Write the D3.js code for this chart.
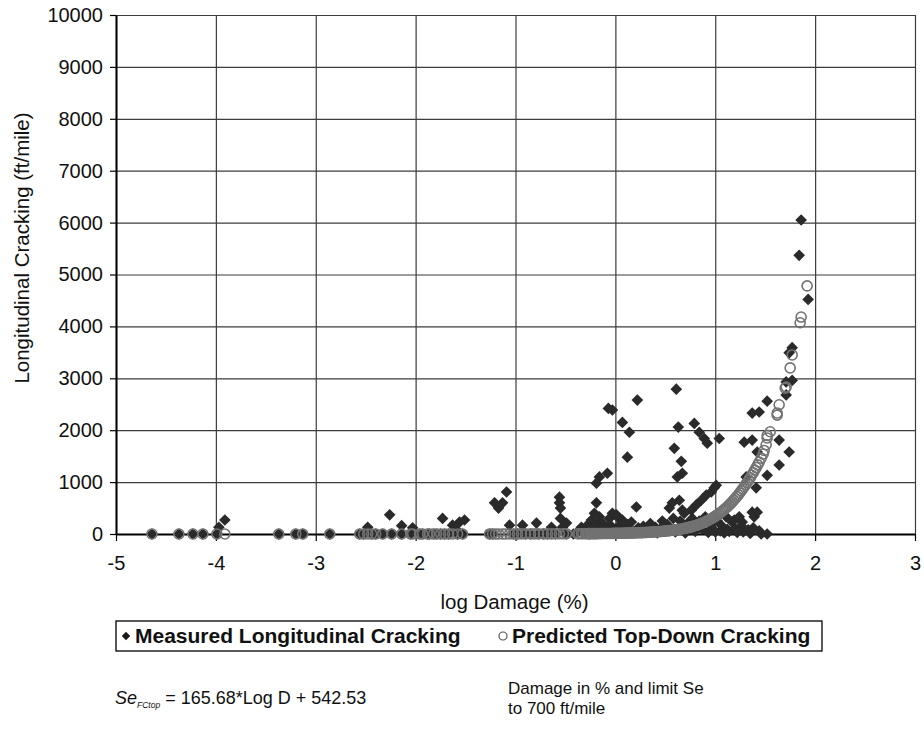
<!DOCTYPE html>
<html><head><meta charset="utf-8">
<script src="https://cdn.jsdelivr.net/npm/d3@7"></script>
<style>
body{margin:0;background:#fff}
svg{display:block}
text{font-family:"Liberation Sans",Arial,Helvetica,sans-serif;fill:#111}
</style>
</head><body>
<svg id="chart" width="924" height="740"></svg>
<script>
// ---------------- data ----------------
const xTicks = [-5, -4, -3, -2, -1, 0, 1, 2, 3];
const yTicks = [0, 1000, 2000, 3000, 4000, 5000, 6000, 7000, 8000, 9000, 10000];
const xTitle = "log Damage (%)";
const yTitle = "Longitudinal Cracking (ft/mile)";
const legendLabels = ["Measured Longitudinal Cracking", "Predicted Top-Down Cracking"];
const noteLines = ["Damage in % and limit Se", "to 700 ft/mile"];

// [log Damage (%), measured longitudinal cracking ft/mile]
const measured = [
  [-4.64,0],[-4.37,0],[-4.23,0],[-4.13,0],[-3.99,0],[-3.97,130],[-3.91,270],[-3.37,0],[-3.20,0],[-3.13,0],[-2.86,0],
  [-2.56,0],[-2.52,0],[-2.48,130],[-2.44,0],[-2.40,0],[-2.33,0],[-2.26,370],[-2.24,0],[-2.14,160],[-2.14,0],[-2.05,0],
  [-2.03,120],[-1.96,0],[-1.93,0],[-1.88,0],[-1.86,0],[-1.82,0],[-1.79,0],[-1.73,300],[-1.75,0],[-1.71,0],[-1.67,0],
  [-1.63,170],[-1.60,100],[-1.58,0],[-1.56,230],[-1.53,0],[-1.51,270],
  [-1.26,0],[-1.23,0],[-1.21,600],[-1.17,500],[-1.13,600],[-1.09,810],[-1.06,170],[-1.02,0],[-0.98,0],[-0.93,170],
  [-0.90,0],[-0.85,0],[-0.79,210],[-0.77,0],[-0.72,0],[-0.68,0],[-0.64,130],[-0.60,0],[-0.56,710],[-0.56,600],
  [-0.55,500],[-0.55,300],[-0.53,130],[-0.49,210],[-0.49,0],
  [-0.42,0],[-0.38,40],[-0.34,130],[-0.30,60],[-0.28,170],[-0.26,0],[-0.24,270],[-0.22,90],[-0.21,400],[-0.19,600],
  [-0.19,980],[-0.17,200],[-0.16,330],[-0.16,1100],[-0.14,60],[-0.13,210],[-0.11,120],[-0.08,1170],[-0.07,2420],
  [-0.06,300],[-0.05,170],[-0.03,2390],[-0.03,400],[-0.01,80],[0.01,370],[0.02,330],[0.03,150],[0.05,60],[0.07,2150],
  [0.07,270],[0.09,110],[0.12,1480],[0.12,180],[0.14,1960],[0.16,230],[0.18,40],[0.21,520],[0.22,2580],[0.23,120],
  [0.25,60],[0.28,150],[0.30,30],[0.33,90],[0.35,200],[0.38,60],[0.40,130],[0.42,20],[0.45,100],[0.47,250],[0.50,60],
  [0.52,180],[0.54,500],[0.55,80],[0.57,600],[0.58,300],[0.59,1650],[0.60,40],[0.61,2790],[0.62,1100],[0.63,2060],
  [0.64,650],[0.65,250],[0.66,1400],[0.67,1170],[0.67,460],[0.68,120],[0.69,400],[0.70,20],[0.72,200],[0.74,80],
  [0.76,460],[0.77,300],[0.79,2130],[0.80,50],[0.81,560],[0.82,150],[0.84,1960],[0.84,250],[0.86,650],[0.87,90],
  [0.89,1840],[0.90,330],[0.91,750],[0.92,1750],[0.93,30],[0.95,180],[0.96,810],[0.97,100],[0.99,890],[1.00,40],
  [1.01,940],[1.02,250],[1.04,1840],[1.05,60],[1.07,150],[1.09,20],[1.11,330],[1.12,90],[1.14,50],[1.17,230],
  [1.19,270],[1.20,100],[1.22,30],[1.24,330],[1.26,160],[1.27,230],[1.28,40],[1.29,1770],[1.31,1100],[1.33,80],
  [1.35,10],[1.37,1810],[1.37,2330],[1.37,420],[1.38,120],[1.39,330],[1.41,890],[1.42,1580],[1.42,420],[1.44,2350],
  [1.44,60],[1.46,0],[1.52,2560],[1.52,1130],[1.52,0],[1.64,1810],[1.64,1330],[1.71,2930],[1.71,2680],[1.74,1580],
  [1.74,3490],[1.77,3590],[1.77,2960],[1.84,5370],[1.86,6050],[1.93,4520]
];

// [log Damage (%), predicted top-down cracking ft/mile]
const predicted = [
  [-4.64,0],[-4.37,0],[-4.23,0],[-4.13,0],[-3.99,0],[-3.91,0],[-3.37,0],[-3.20,0],[-3.13,0],[-2.86,0],
  [-2.56,0],[-2.52,0],[-2.48,0],[-2.44,0],[-2.40,0],[-2.33,0],[-2.24,0],[-2.14,0],[-2.05,0],[-2.03,0],[-1.96,0],
  [-1.93,0],[-1.88,0],[-1.86,0],[-1.82,0],[-1.79,0],[-1.75,0],[-1.71,0],[-1.67,0],[-1.63,0],[-1.58,0],[-1.53,0],
  [-1.26,1],[-1.23,1],[-1.20,1],[-1.17,1],[-1.13,1],[-1.10,1],[-1.06,1],[-1.02,1],[-0.98,2],[-0.94,2],[-0.90,2],
  [-0.85,2],[-0.81,2],[-0.77,3],[-0.72,3],[-0.68,3],[-0.64,3],[-0.60,4],[-0.56,4],[-0.52,4],[-0.49,5],
  [-0.38,5],[-0.34,6],[-0.30,6],[-0.27,7],[-0.24,7],[-0.21,8],[-0.18,8],[-0.15,9],[-0.12,10],[-0.09,10],[-0.06,11],
  [-0.03,12],[0.00,13],[0.03,14],[0.06,15],[0.09,16],[0.12,18],[0.15,19],[0.18,21],[0.21,23],[0.24,25],[0.27,27],
  [0.30,30],[0.33,33],[0.36,36],[0.39,40],[0.42,44],[0.45,48],[0.48,53],[0.51,59],[0.54,65],[0.57,72],
  [0.60,80],[0.63,88],[0.66,97],[0.69,108],[0.72,120],[0.75,134],[0.78,150],[0.81,168],[0.84,188],[0.87,210],
  [0.90,236],[0.93,264],[0.96,295],[0.99,330],[1.02,368],[1.05,410],[1.08,456],[1.11,506],[1.14,560],[1.17,620],
  [1.20,685],[1.23,755],[1.26,830],[1.29,910],[1.32,995],[1.35,1085],[1.38,1180],[1.41,1280],[1.44,1385],[1.46,1460],
  [-0.365,5],[-0.325,6],[-0.285,6],[-0.255,7],[-0.225,7],[-0.195,8],[-0.165,9],[-0.135,9],[-0.105,10],[-0.075,11],
  [-0.045,11],[-0.015,12],[0.015,13],[0.045,14],[0.075,15],[0.105,17],[0.135,18],[0.165,20],[0.195,22],[0.225,24],
  [0.255,26],[0.285,28],[0.315,31],[0.345,34],[0.375,38],[0.405,42],[0.435,46],[0.465,50],[0.495,56],[0.525,62],
  [0.555,68],[0.585,76],[0.615,84],[0.645,92],[0.675,102],[0.705,114],[0.735,127],[0.765,142],[0.795,159],[0.825,178],
  [0.855,199],[0.885,223],[0.915,250],[0.945,279],[0.975,312],[1.005,349],[1.035,389],[1.065,433],[1.095,481],
  [1.125,533],[1.155,590],[1.185,652],[1.215,720],[1.245,792],[1.275,870],[1.305,952],[1.335,1040],[1.365,1132],
  [1.395,1230],[1.425,1332],
  [1.48,1540],[1.49,1610],[1.51,1720],[1.52,1850],[1.52,1900],[1.55,1970],[1.62,2290],[1.62,2330],[1.64,2490],
  [1.70,2810],[1.71,2830],[1.75,3200],[1.77,3450],[1.85,4070],[1.86,4180],[1.92,4780]
];

// ---------------- chart ----------------
const svg = d3.select("#chart");
const M = {l: 116, r: 915, t: 15, b: 534};
const x = d3.scaleLinear().domain([-5, 3]).range([M.l, M.r]);
const y = d3.scaleLinear().domain([0, 10000]).range([M.b, M.t]);
const FS = 20;

// grid lines
svg.append("g")
  .attr("transform", `translate(0,${M.b})`)
  .call(d3.axisBottom(x).tickValues(xTicks).tickSize(-(M.b - M.t)).tickFormat(""))
  .call(g => g.select(".domain").remove())
  .call(g => g.selectAll("line").attr("stroke", "#3c3c3c").attr("stroke-width", 1.2));
svg.append("g")
  .attr("transform", `translate(${M.l},0)`)
  .call(d3.axisLeft(y).tickValues(yTicks).tickSize(-(M.r - M.l)).tickFormat(""))
  .call(g => g.select(".domain").remove())
  .call(g => g.selectAll("line").attr("stroke", "#3c3c3c").attr("stroke-width", 1.2));

// axes
const xAxis = svg.append("g")
  .attr("transform", `translate(0,${M.b})`)
  .call(d3.axisBottom(x).tickValues(xTicks).tickSize(7).tickSizeOuter(0).tickPadding(15).tickFormat(d3.format("d")));
const yAxis = svg.append("g")
  .attr("transform", `translate(${M.l},0)`)
  .call(d3.axisLeft(y).tickValues(yTicks).tickSize(6).tickSizeOuter(0).tickPadding(7).tickFormat(d3.format("d")));
[xAxis, yAxis].forEach(a => {
  a.select(".domain").attr("stroke", "#000").attr("stroke-width", 2);
  a.selectAll(".tick line").attr("stroke", "#000").attr("stroke-width", 1.2);
  a.selectAll(".tick text").attr("font-size", FS).attr("font-family", "Liberation Sans, Arial, sans-serif").attr("fill", "#111");
});
xAxis.selectAll(".tick text").text(d => d < 0 ? "-" + Math.abs(d) : d);

// axis titles
svg.append("text").attr("x", (M.l + M.r) / 2 - 1).attr("y", 609)
  .attr("text-anchor", "middle").attr("font-size", 20.5).text(xTitle);
svg.append("text").attr("transform", "translate(29,248) rotate(-90)")
  .attr("text-anchor", "middle").attr("font-size", 20.5).text(yTitle);

// marks
const diamond = d3.symbol().type(d3.symbolSquare).size(68);
svg.append("g").selectAll("path").data(measured).join("path")
  .attr("d", diamond)
  .attr("transform", d => `translate(${x(d[0])},${y(d[1])}) rotate(45)`)
  .attr("fill", "#2a2a2a");
svg.append("g").selectAll("circle").data(predicted).join("circle")
  .attr("cx", d => x(d[0])).attr("cy", d => y(d[1])).attr("r", 5)
  .attr("fill", "none").attr("stroke", "#727272").attr("stroke-width", 1.6);

// legend
const lg = svg.append("g");
lg.append("rect").attr("x", 116).attr("y", 621).attr("width", 706).attr("height", 30)
  .attr("fill", "#fff").attr("stroke", "#000").attr("stroke-width", 1.3);
lg.append("path").attr("d", d3.symbol().type(d3.symbolSquare).size(36))
  .attr("transform", "translate(126,636) rotate(45)").attr("fill", "#1a1a1a");
lg.append("text").attr("x", 135).attr("y", 643).attr("font-size", 21).attr("font-weight", "bold").text(legendLabels[0]);
lg.append("circle").attr("cx", 503).attr("cy", 636).attr("r", 4)
  .attr("fill", "none").attr("stroke", "#555").attr("stroke-width", 1.2);
lg.append("text").attr("x", 512).attr("y", 643).attr("font-size", 21).attr("font-weight", "bold").text(legendLabels[1]);

// notes
const eq = svg.append("text").attr("x", 115).attr("y", 704).attr("font-size", 18);
eq.append("tspan").attr("font-style", "italic").text("Se");
eq.append("tspan").attr("font-style", "italic").attr("font-size", 8.5).attr("dy", 4).text("FCtop");
eq.append("tspan").attr("dy", -4).text(" = 165.68*Log D + 542.53");
svg.append("text").attr("x", 508).attr("y", 694).attr("font-size", 17).text(noteLines[0]);
svg.append("text").attr("x", 508).attr("y", 714).attr("font-size", 17).text(noteLines[1]);
</script>
</body></html>
